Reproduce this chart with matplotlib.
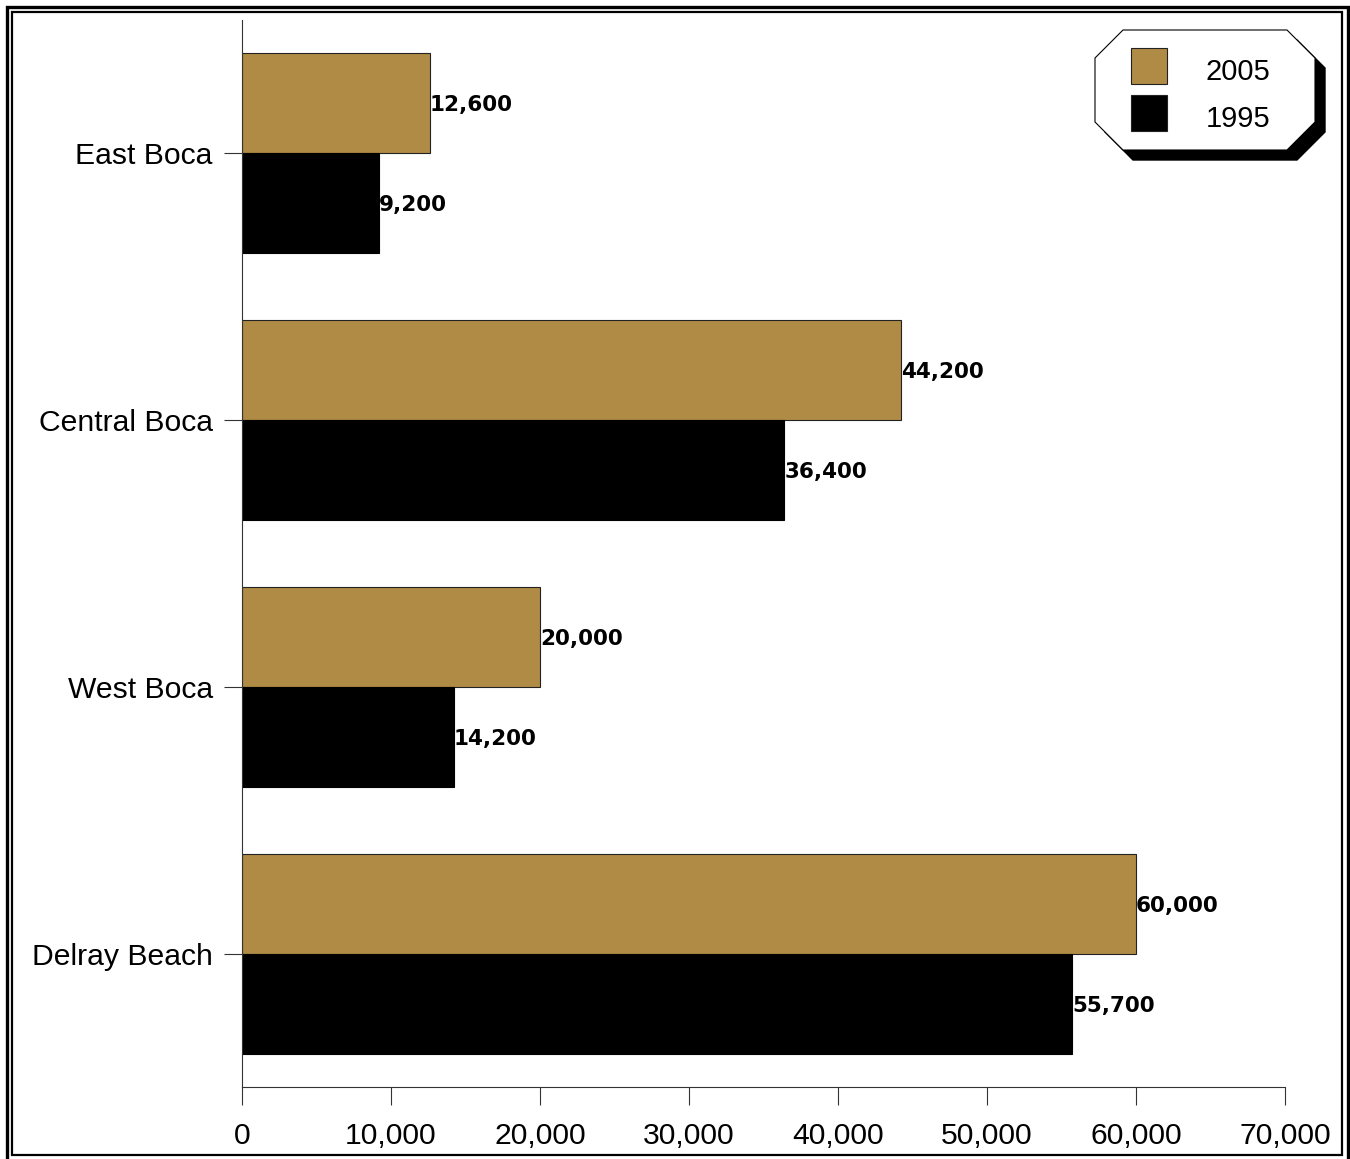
import numpy as np
import matplotlib.pyplot as plt
from matplotlib.patches import Rectangle, Polygon

# data
regions = ["East Boca", "Central Boca", "West Boca", "Delray Beach"]
vals_2005 = [12600, 44200, 20000, 60000]
vals_1995 = [9200, 36400, 14200, 55700]
series_names = ["2005", "1995"]
xticks = [0, 10000, 20000, 30000, 40000, 50000, 60000, 70000]

gold = "#B08B45"
W, H = 1350, 1159

plt.rcParams['font.family'] = ['Liberation Sans', 'DejaVu Sans']

fig = plt.figure(figsize=(W / 100, H / 100), dpi=100)

def fx(px):
    return px / W

def fy(py):
    return 1 - py / H

ax = fig.add_axes([fx(242), fy(1087), fx(1285) - fx(242), fy(20) - fy(1087)])

y = np.arange(len(regions))
bh = 0.375
b05 = ax.barh(y - bh / 2, vals_2005, height=bh, color=gold, edgecolor="#222222", linewidth=0.8)
b95 = ax.barh(y + bh / 2, vals_1995, height=bh, color="black", edgecolor="black", linewidth=0.8)

for bars, vals in ((b05, vals_2005), (b95, vals_1995)):
    for rect, v in zip(bars, vals):
        ax.text(v, rect.get_y() + rect.get_height() / 2, f"{v:,}",
                ha="left", va="center_baseline", fontsize=15.5, family="DejaVu Sans",
                fontweight="semibold", color="black")

ax.set_ylim(len(regions) - 0.5, -0.5)
ax.set_xlim(0, 70000)
ax.set_yticks(y)
ax.set_yticklabels(regions, fontsize=21.7)
ax.set_xticks(xticks)
ax.set_xticklabels([f"{t:,}" for t in xticks], fontsize=21.7)
ax.tick_params(axis="both", length=13, width=0.8, color="#333333")
ax.tick_params(axis="x", pad=12)
ax.tick_params(axis="y", pad=8)
for lbl in ax.get_yticklabels():
    lbl.set_va("center_baseline")
for s in ("top", "right"):
    ax.spines[s].set_visible(False)
for s in ("left", "bottom"):
    ax.spines[s].set_linewidth(0.8)
    ax.spines[s].set_color("#333333")

# double frame around the figure
fig.patches.append(Rectangle((fx(6.5), fy(1162)), fx(1347.5) - fx(6.5), fy(6.5) - fy(1162),
                             transform=fig.transFigure, fill=False, edgecolor="black", linewidth=2.4))
fig.patches.append(Rectangle((fx(11.5), fy(1155)), fx(1342) - fx(11.5), fy(11.5) - fy(1155),
                             transform=fig.transFigure, fill=False, edgecolor="black", linewidth=1.6))

# legend: chamfered box with drop shadow
def octagon(x0, y0, x1, y1, c):
    pts = [(x0 + c, y0), (x1 - c, y0), (x1, y0 + c), (x1, y1 - c),
           (x1 - c, y1), (x0 + c, y1), (x0, y1 - c), (x0, y0 + c)]
    return [(fx(px), fy(py)) for px, py in pts]

fig.patches.append(Polygon(octagon(1105, 40, 1325, 160, 28), closed=True,
                           transform=fig.transFigure, facecolor="black", edgecolor="black"))
fig.patches.append(Polygon(octagon(1095, 30, 1315, 150, 28), closed=True,
                           transform=fig.transFigure, facecolor="white", edgecolor="black", linewidth=0.8))

for i, (name, col) in enumerate(zip(series_names, [gold, "black"])):
    top = 48 + i * 47
    fig.patches.append(Rectangle((fx(1131), fy(top + 36)), fx(36), 36 / H,
                                 transform=fig.transFigure, facecolor=col,
                                 edgecolor="#222222", linewidth=0.8))
    fig.text(fx(1238), fy(top + 21), name, ha="center", va="center_baseline", fontsize=21)

fig.savefig("out.png", dpi=100)
